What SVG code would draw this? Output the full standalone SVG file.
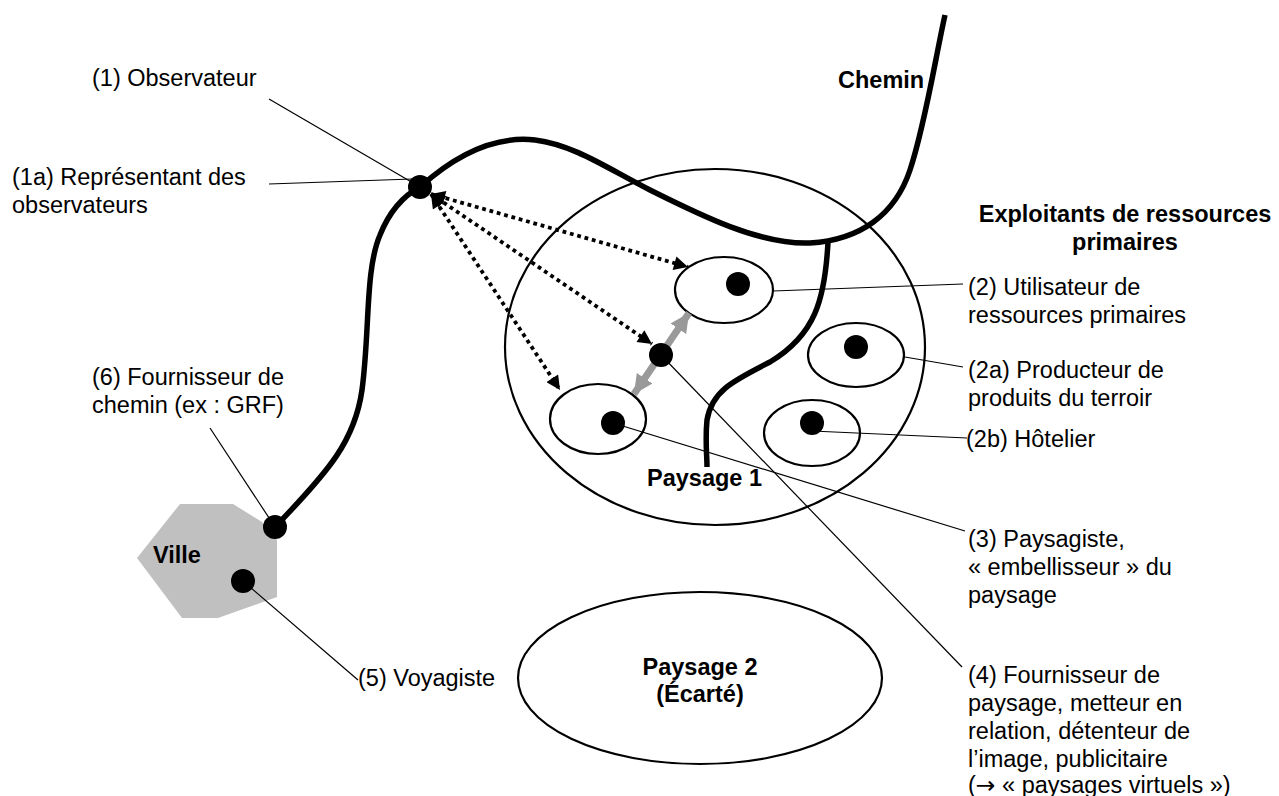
<svg xmlns="http://www.w3.org/2000/svg" width="1279" height="796" viewBox="0 0 1279 796">
<defs>
<style>
text{font-family:"Liberation Sans",Arial,sans-serif;font-size:23.5px;fill:#000}
.b{font-weight:bold}
.m{text-anchor:middle}
.ell{fill:none;stroke:#000;stroke-width:2.2}
.sell{fill:#fff;stroke:#000;stroke-width:2.2}
.dot{fill:#000}
.lead{stroke:#000;stroke-width:1.2;fill:none}
.path{fill:none;stroke:#000;stroke-width:5.5;stroke-linecap:butt}
.dash{fill:none;stroke:#000;stroke-width:3.8;stroke-dasharray:3.8 3.8;marker-start:url(#ab);marker-end:url(#ab)}
.gray{fill:none;stroke:#999;stroke-width:7;marker-start:url(#ag);marker-end:url(#ag)}
.sym{font-family:"DejaVu Sans",sans-serif}
</style>
<marker id="ab" viewBox="0 0 10 10" refX="10" refY="5" markerWidth="15" markerHeight="14" markerUnits="userSpaceOnUse" orient="auto-start-reverse"><path d="M0,0 L10,5 L0,10 z" fill="#000"/></marker>
<marker id="ag" viewBox="0 0 10 10" refX="10" refY="5" markerWidth="19" markerHeight="20" markerUnits="userSpaceOnUse" orient="auto-start-reverse"><path d="M0,0 L10,5 L0,10 z" fill="#999"/></marker>
</defs>
<rect width="1279" height="796" fill="#fff"/>

<g id="ville">
<polygon points="180,504 233,504 262,522 277,540 277,597 218,618 182,618 137,558" fill="#c0c0c0"/>
<text class="b" x="153" y="563">Ville</text>
</g>

<g id="paysage1">
<ellipse class="ell" cx="715" cy="347" rx="210" ry="178"/>
</g>

<g id="paysage2">
<ellipse class="ell" cx="700" cy="678" rx="182" ry="86"/>
<text class="b m" x="700" y="675">Paysage 2</text>
<text class="b m" x="700" y="702">(Écarté)</text>
</g>

<g id="ellipse-2">
<ellipse class="sell" cx="724" cy="290" rx="49" ry="33"/>
<circle class="dot" cx="738" cy="284" r="12"/>
</g>
<g id="ellipse-2a">
<ellipse class="sell" cx="856" cy="355" rx="48" ry="32"/>
<circle class="dot" cx="856" cy="347" r="12"/>
</g>
<g id="ellipse-2b">
<ellipse class="sell" cx="812" cy="433" rx="48" ry="33"/>
<circle class="dot" cx="812" cy="423" r="12"/>
</g>
<g id="ellipse-3">
<ellipse class="sell" cx="598" cy="419" rx="48" ry="35"/>
<circle class="dot" cx="613" cy="423" r="12"/>
</g>

<g id="chemin">
<path class="path" d="M275,527 C330,470 355,440 362,390 C370,330 365,270 380,235 C390,210 405,195 420,187 C450,160 490,135 535,140 C575,145 610,170 650,190 C700,215 760,245 810,243 C860,240 895,215 910,170 C925,125 935,60 945,15"/>
<path class="path" d="M828,242 C825,300 815,335 770,362 C735,380 712,390 707,420 C705,440 707,455 707,467"/>
<text class="b" x="838" y="88">Chemin</text>
<text class="b" x="647" y="486">Paysage 1</text>
</g>

<g id="connectors">
<path class="dash" d="M431,194 L688,267"/>
<path class="dash" d="M431,194 L652,344"/>
<path class="dash" d="M431,194 L560,390"/>
<path class="gray" d="M634,394 L689,313"/>
<path class="lead" d="M269,99 L420,187"/>
<path class="lead" d="M269,184 L412,179"/>
<path class="lead" d="M210,428 L275,527"/>
<path class="lead" d="M243,581 L358,680"/>
<path class="lead" d="M773,291 L963,284"/>
<path class="lead" d="M905,357 L963,367"/>
<path class="lead" d="M812,431 L967,438"/>
<path class="lead" d="M613,423 L965,531"/>
<path class="lead" d="M661,355 L962,667"/>
</g>

<g id="dots">
<circle class="dot" cx="420" cy="187" r="12"/>
<circle class="dot" cx="661" cy="355" r="12"/>
<circle class="dot" cx="275" cy="527" r="12"/>
<circle class="dot" cx="243" cy="581" r="12"/>
</g>

<g id="labels">
<text x="92" y="86">(1) Observateur</text>
<text x="12" y="185">(1a) Représentant des</text>
<text x="12" y="213">observateurs</text>
<text x="92" y="385">(6) Fournisseur de</text>
<text x="92" y="413">chemin (ex : GRF)</text>
<text x="358" y="686">(5) Voyagiste</text>
<text class="b m" x="1125" y="222">Exploitants de ressources</text>
<text class="b m" x="1125" y="250">primaires</text>
<text x="968" y="295">(2) Utilisateur de</text>
<text x="968" y="323">ressources primaires</text>
<text x="968" y="378">(2a) Producteur de</text>
<text x="968" y="406">produits du terroir</text>
<text x="966" y="447">(2b) Hôtelier</text>
<text x="968" y="547">(3) Paysagiste,</text>
<text x="968" y="575">« embellisseur » du</text>
<text x="968" y="603">paysage</text>
<text x="968" y="683">(4) Fournisseur de</text>
<text x="968" y="711">paysage, metteur en</text>
<text x="968" y="739">relation, détenteur de</text>
<text x="968" y="767">l’image, publicitaire</text>
<text x="968" y="793">(<tspan class="sym">→</tspan> « paysages virtuels »)</text>
</g>
</svg>
